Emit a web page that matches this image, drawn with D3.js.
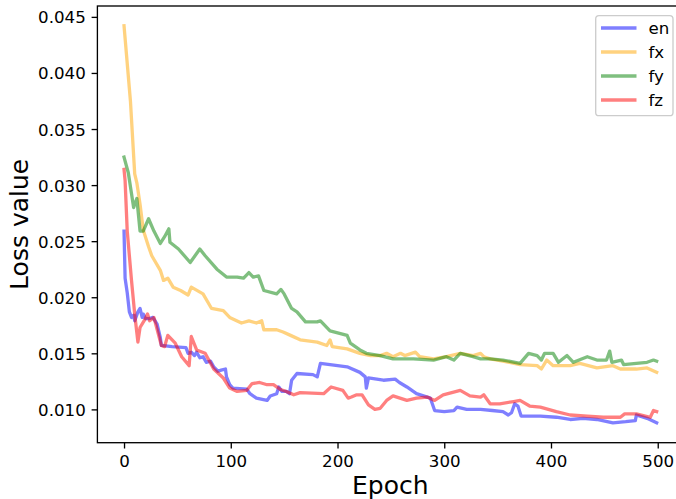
<!DOCTYPE html>
<html>
<head>
<meta charset="utf-8">
<script src="https://cdn.jsdelivr.net/npm/d3@7"></script>
<style>
  html, body { margin: 0; padding: 0; background: #fff; }
  svg { display: block; font-family: "DejaVu Sans", sans-serif; }
</style>
</head>
<body>
<svg id="chart" width="676" height="499"></svg>
<script>
// ---------- data ----------
const seriesNames = ["en", "fx", "fy", "fz"];
const seriesColors = ["blue", "orange", "green", "red"];

const enEpochs = [0,1,3,5,7,9,10,13,15,17,18,20,24,27,31,34,35,45,58,60,63,66,68,71,74,77,81,84,88,91,95,96,99,102,115,118,124,134,137,143,145,148,152,155,157,162,177,181,184,193,209,221,226,227,229,243,254,258,265,274,287,291,300,309,312,321,334,345,355,360,363,366,369,372,390,405,418,430,443,458,470,479,480,490,499];
const enLoss = [0.0259,0.0217,0.0204,0.0187,0.0182,0.0184,0.0179,0.0187,0.0190,0.0182,0.0185,0.0181,0.0181,0.0182,0.0176,0.0164,0.0157,0.0156,0.0155,0.0150,0.0151,0.0148,0.0151,0.0146,0.0147,0.0142,0.0143,0.0138,0.0134,0.0135,0.0136,0.0129,0.0122,0.0119,0.0118,0.0114,0.0110,0.0108,0.0112,0.0114,0.0120,0.0116,0.0116,0.0114,0.0126,0.0132,0.0131,0.0129,0.0141,0.0140,0.0138,0.0133,0.0129,0.0119,0.0128,0.0126,0.0127,0.0124,0.0120,0.0114,0.0110,0.0099,0.0098,0.0099,0.0102,0.0100,0.0100,0.0099,0.0098,0.0095,0.0097,0.0105,0.0103,0.0094,0.0094,0.0093,0.0091,0.0092,0.0091,0.0088,0.0089,0.0090,0.0095,0.0092,0.0088];

const fxEpochs = [0,6,10,12,15,18,23,26,34,37,41,46,53,60,63,74,82,93,99,110,117,124,129,131,143,149,156,165,181,190,193,195,209,221,231,240,246,252,259,263,273,277,290,302,315,327,334,337,343,355,371,387,391,396,402,418,427,443,458,465,480,490,499];
const fxLoss = [0.0442,0.0375,0.0310,0.0302,0.0283,0.0260,0.0245,0.0237,0.0224,0.0215,0.0217,0.0209,0.0206,0.0202,0.0209,0.0203,0.0190,0.0188,0.0182,0.0177,0.0179,0.0177,0.0179,0.0171,0.0171,0.0169,0.0166,0.0162,0.0160,0.0157,0.0162,0.0156,0.0154,0.0150,0.0148,0.0148,0.0150,0.0147,0.0150,0.0148,0.0151,0.0147,0.0145,0.0147,0.0150,0.0148,0.0150,0.0147,0.0145,0.0143,0.0140,0.0139,0.0136,0.0144,0.0139,0.0139,0.0141,0.0137,0.0139,0.0136,0.0136,0.0137,0.0133];

const fyEpochs = [0,4,9,12,15,18,23,28,34,38,42,43,51,62,71,76,87,96,106,112,117,121,126,131,143,147,150,157,162,170,181,184,193,209,212,221,227,240,252,271,290,302,309,315,327,334,343,355,371,379,387,391,394,402,407,415,421,434,443,452,455,457,466,468,480,490,496,499];
const fyLoss = [0.0325,0.0311,0.0280,0.0288,0.0259,0.0259,0.0270,0.0259,0.0248,0.0254,0.0261,0.0249,0.0243,0.0231,0.0243,0.0237,0.0225,0.0218,0.0218,0.0217,0.0222,0.0218,0.0219,0.0206,0.0203,0.0207,0.0203,0.0190,0.0187,0.0178,0.0178,0.0179,0.0170,0.0166,0.0159,0.0153,0.0150,0.0148,0.0145,0.0145,0.0144,0.0147,0.0144,0.0150,0.0147,0.0145,0.0145,0.0144,0.0141,0.0150,0.0148,0.0144,0.0150,0.0150,0.0142,0.0148,0.0142,0.0147,0.0144,0.0144,0.0152,0.0142,0.0144,0.0140,0.0141,0.0142,0.0144,0.0143];

const fzEpochs = [0,1,3,7,10,13,15,20,22,24,28,35,38,41,48,54,61,63,68,76,84,93,99,106,115,120,127,134,140,146,152,159,165,187,194,205,210,213,218,223,229,235,240,246,252,265,274,284,291,299,315,324,334,337,343,352,365,371,380,390,405,418,434,449,465,469,480,493,496,499];
const fzLoss = [0.0314,0.0304,0.0259,0.0215,0.0185,0.0160,0.0173,0.0181,0.0185,0.0179,0.0182,0.0157,0.0156,0.0166,0.0159,0.0147,0.0139,0.0165,0.0153,0.0150,0.0136,0.0128,0.0119,0.0116,0.0117,0.0123,0.0124,0.0122,0.0122,0.0118,0.0116,0.0113,0.0115,0.0114,0.0120,0.0117,0.0110,0.0111,0.0113,0.0113,0.0104,0.0100,0.0101,0.0108,0.0112,0.0108,0.0110,0.0111,0.0108,0.0113,0.0117,0.0112,0.0111,0.0113,0.0105,0.0105,0.0107,0.0108,0.0103,0.0102,0.0098,0.0095,0.0094,0.0093,0.0093,0.0096,0.0096,0.0093,0.0099,0.0098];

const xTickValues = [0, 100, 200, 300, 400, 500];
const yTickValues = [0.010, 0.015, 0.020, 0.025, 0.030, 0.035, 0.040, 0.045];
const xLabel = "Epoch";
const yLabel = "Loss value";

// ---------- layout ----------
const plotL = 97.4, plotR = 683.3, plotT = 6, plotB = 442.7;
const svg = d3.select("#chart");

const allSeries = [
  {name: seriesNames[0], color: seriesColors[0], e: enEpochs, v: enLoss},
  {name: seriesNames[1], color: seriesColors[1], e: fxEpochs, v: fxLoss},
  {name: seriesNames[2], color: seriesColors[2], e: fyEpochs, v: fyLoss},
  {name: seriesNames[3], color: seriesColors[3], e: fzEpochs, v: fzLoss}
];

const xMin = 0, xMax = 499;
const xPad = (xMax - xMin) * 0.05;
const allV = allSeries.flatMap(s => s.v);
const yMinD = d3.min(allV), yMaxD = d3.max(allV);
const yPad = (yMaxD - yMinD) * 0.05;

const x = d3.scaleLinear().domain([xMin - xPad, xMax + xPad]).range([plotL, plotR]);
const y = d3.scaleLinear().domain([yMinD - yPad, yMaxD + yPad]).range([plotB, plotT]);

// lines
const line = d3.line().x(d => x(d[0])).y(d => y(d[1]));
const gLines = svg.append("g");
allSeries.forEach(s => {
  const pts = s.e.map((e, i) => [e, s.v[i]]);
  gLines.append("path")
    .attr("d", line(pts))
    .attr("fill", "none")
    .attr("stroke", s.color)
    .attr("stroke-opacity", 0.5)
    .attr("stroke-width", 3.3)
    .attr("stroke-linejoin", "round")
    .attr("stroke-linecap", "square");
});

// axes
const tickFont = 16.67;
const xAxis = d3.axisBottom(x).tickValues(xTickValues).tickFormat(d3.format("d"))
  .tickSizeInner(5.8).tickSizeOuter(0).tickPadding(5.8);
const yAxis = d3.axisLeft(y).tickValues(yTickValues).tickFormat(d3.format(".3f"))
  .tickSizeInner(5.8).tickSizeOuter(0).tickPadding(5.8);

const gx = svg.append("g").attr("transform", `translate(0,${plotB})`).call(xAxis);
const gy = svg.append("g").attr("transform", `translate(${plotL},0)`).call(yAxis);
[gx, gy].forEach(g => {
  g.select(".domain").remove();
  g.selectAll(".tick line").attr("stroke", "#000").attr("stroke-width", 1.33);
  g.selectAll(".tick text").attr("fill", "#000")
    .style("font-family", "DejaVu Sans").style("font-size", tickFont + "px");
});
gx.selectAll(".tick text").attr("dy", null).attr("y", 24.8);
gy.selectAll(".tick text").attr("dy", "6px");

// spines
svg.append("rect").attr("x", plotL).attr("y", plotT)
  .attr("width", plotR - plotL).attr("height", plotB - plotT)
  .attr("fill", "none").attr("stroke", "#000").attr("stroke-width", 1.33);

// axis labels
svg.append("text").attr("x", (plotL + plotR) / 2).attr("y", 493.5)
  .attr("text-anchor", "middle").style("font-size", "25px").attr("fill", "#000").text(xLabel);
svg.append("text").attr("transform", `translate(28,${(plotT + plotB) / 2}) rotate(-90)`)
  .attr("text-anchor", "middle").style("font-size", "25px").attr("fill", "#000").text(yLabel);

// legend
const lg = svg.append("g");
lg.append("rect").attr("x", 595.7).attr("y", 15.7).attr("width", 77.3).attr("height", 100)
  .attr("rx", 3.3).attr("ry", 3.3)
  .attr("fill", "#fff").attr("fill-opacity", 0.8).attr("stroke", "#cccccc").attr("stroke-width", 1.33);
allSeries.forEach((s, i) => {
  const yy = 28 + i * 24;
  lg.append("line").attr("x1", 601).attr("x2", 636.5).attr("y1", yy).attr("y2", yy)
    .attr("stroke", s.color).attr("stroke-opacity", 0.5).attr("stroke-width", 3.3);
  lg.append("text").attr("x", 648.5).attr("y", yy + 6)
    .style("font-size", tickFont + "px").attr("fill", "#000").text(s.name);
});
</script>
</body>
</html>
